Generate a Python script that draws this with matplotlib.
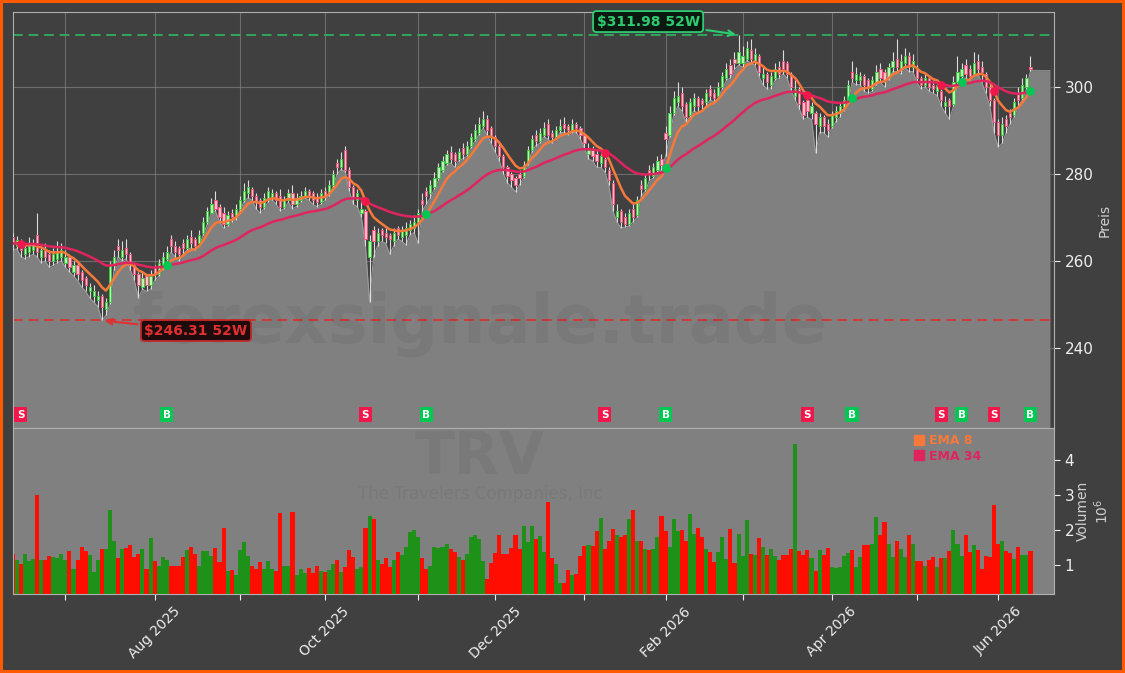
import numpy as np
import pandas as pd
import matplotlib
matplotlib.use('Agg')
import matplotlib.pyplot as plt
from matplotlib.lines import Line2D

# ---------------- data: TRV daily, Jun 11 2025 - Jun 11 2026 ----------------
holidays = ['2025-06-19', '2025-07-04', '2025-09-01', '2025-11-27', '2025-12-25',
            '2026-01-01', '2026-01-19', '2026-02-16', '2026-04-03', '2026-05-25']
dates = pd.bdate_range('2025-06-11', '2026-06-11')
dates = dates[~dates.isin(pd.to_datetime(holidays))]

opens = [
    265.5, 263.5, 264.5, 261.5, 262.0, 262.5, 266.0, 261.0, 262.5, 261.5, 260.0, 260.5, 261.0,
    259.5, 261.0, 257.5, 259.0, 257.5, 256.0, 253.0, 252.0, 251.0, 252.0, 249.0, 250.5, 259.0, 263.5, 261.0, 263.0, 261.5, 259.0, 257.0, 254.0, 256.5, 254.5,
    258.5, 257.0, 259.0, 260.5, 265.0, 263.5, 263.0, 264.0, 263.0, 265.5, 265.0, 264.0, 266.5, 269.0, 271.0, 274.0, 272.5, 271.0, 268.5, 271.0, 270.0,
    272.0, 274.0, 275.5, 276.5, 275.0, 274.0, 272.5, 274.0, 274.5, 275.5, 275.0, 272.5, 274.0, 275.5, 273.0, 274.0, 275.0, 276.0, 275.5, 274.5, 273.5,
    276.0, 275.5, 277.5, 282.5, 281.5, 285.5, 281.0, 277.0, 274.0, 271.0, 271.5, 261.0, 267.0, 264.5, 267.0, 266.5, 266.0, 264.5, 267.5, 265.5, 266.0, 267.0, 267.5,
    268.5, 274.0, 276.0, 275.5, 277.0, 279.0, 281.0, 282.5, 285.0, 284.5, 283.5, 286.0, 284.5, 286.5, 288.0, 289.5, 291.0, 292.5, 290.5,
    288.5, 286.5, 284.0, 281.5, 280.0, 279.0, 280.0, 279.5, 282.5, 285.5, 289.0, 287.5, 289.0, 291.5, 289.5, 288.5, 290.0, 291.5, 291.0, 290.0, 291.5, 290.5,
    289.0, 284.5, 285.5, 284.5, 282.5, 283.5, 281.0, 278.0, 270.0, 271.5, 270.0, 268.5, 272.0, 270.5, 277.5, 276.5, 281.0, 279.5, 281.0, 283.5,
    289.5, 289.0, 294.0, 296.5, 298.5, 296.0, 293.5, 295.5, 297.5, 297.0, 296.5, 299.5, 298.5, 298.0, 300.0, 302.0, 305.0, 306.5, 305.5,
    305.5, 306.5, 308.5, 306.0, 307.0, 302.0, 303.0, 300.5, 302.0, 304.5, 306.0, 305.5, 303.0, 298.0, 299.5, 296.5, 297.0, 294.0, 294.0, 291.0, 293.0, 291.5,
    291.0, 293.0, 294.0, 295.0, 297.0, 303.5, 301.5, 301.5, 302.5, 301.5, 299.5, 301.0, 304.0, 303.5, 302.0, 304.5, 306.5, 304.0, 305.5, 307.0, 304.5,
    304.0, 302.0, 300.5, 302.0, 300.5, 299.0, 299.0, 295.5, 297.0, 296.0, 301.0, 302.5, 305.0, 304.0, 303.0, 306.0, 304.5, 303.0, 300.0, 297.0,
    292.0, 289.0, 292.5, 294.0, 293.5, 298.5, 297.5, 300.0, 304.6]

highs = [
    266.5, 265.8, 265.0, 264.0, 265.5, 265.0, 271.0, 263.5, 264.0, 262.5, 263.0, 264.5, 264.0,
    262.5, 261.5, 260.0, 259.5, 258.0, 256.5, 255.0, 254.5, 253.0, 252.5, 251.5, 260.0, 262.5, 265.0, 264.5, 265.0, 262.0, 259.5, 257.5, 257.5, 257.0, 258.0,
    259.0, 260.5, 262.0, 263.5, 266.0, 264.5, 263.5, 265.0, 266.0, 267.0, 265.5, 267.0, 270.0, 272.5, 274.5, 276.0, 273.0, 272.5, 271.5, 272.0, 273.0,
    275.0, 278.0, 278.5, 277.0, 275.5, 274.5, 275.5, 277.0, 276.5, 276.0, 276.5, 275.0, 276.5, 277.5, 275.5, 276.0, 277.0, 276.5, 276.0, 275.5, 276.5,
    277.0, 278.5, 281.0, 283.5, 285.0, 286.5, 281.5, 277.5, 276.5, 274.0, 272.0, 266.0, 268.0, 267.5, 267.5, 267.5, 266.5, 267.5, 268.0, 268.0, 269.0, 269.5, 270.5,
    272.0, 275.5, 277.0, 278.5, 280.5, 282.5, 284.0, 285.5, 286.5, 285.0, 286.0, 287.0, 287.5, 289.5, 291.5, 293.0, 294.5, 293.5, 291.0,
    289.0, 287.0, 284.5, 282.0, 280.5, 279.5, 281.0, 283.0, 286.5, 289.0, 290.0, 290.5, 292.0, 292.5, 290.0, 291.0, 292.5, 293.0, 291.5, 292.5, 292.0, 291.0,
    289.5, 287.0, 286.5, 285.5, 285.0, 284.0, 281.5, 278.5, 273.0, 272.0, 271.0, 272.0, 273.0, 275.0, 278.5, 280.0, 282.0, 282.5, 284.0, 284.5,
    291.0, 295.5, 299.0, 301.0, 300.0, 296.5, 297.5, 298.5, 298.0, 297.5, 299.5, 300.5, 299.5, 301.0, 303.5, 305.5, 306.5, 308.0, 311.98,
    309.5, 310.5, 311.0, 309.0, 307.5, 304.5, 303.5, 303.5, 305.5, 306.0, 308.5, 306.0, 303.5, 301.5, 300.0, 297.0, 297.5, 296.5, 294.5, 294.0, 293.5, 292.5,
    294.5, 295.5, 296.5, 298.0, 301.5, 306.0, 304.5, 303.5, 303.0, 302.0, 302.5, 305.0, 305.5, 304.0, 305.5, 308.0, 311.0, 307.5, 309.0, 308.0, 307.5,
    305.0, 302.5, 303.0, 302.5, 301.5, 301.5, 299.5, 298.0, 297.5, 302.5, 307.0, 305.5, 306.5, 305.0, 308.0, 307.5, 306.0, 303.5, 301.0, 297.5,
    292.5, 293.0, 293.5, 295.0, 297.5, 300.0, 302.0, 303.0, 307.2]

lows = [
    262.5, 262.8, 261.0, 260.5, 261.0, 261.5, 261.0, 259.5, 260.0, 258.5, 259.0, 259.5, 260.0,
    258.5, 257.5, 256.5, 255.5, 254.0, 253.0, 251.5, 250.5, 249.5, 246.31, 247.5, 250.0, 258.0, 261.0, 260.0, 260.5, 258.0, 255.5, 251.5, 253.5, 253.0, 253.5,
    255.5, 256.5, 258.0, 259.5, 262.0, 261.0, 260.0, 261.5, 262.5, 263.0, 262.5, 263.5, 266.0, 268.5, 271.0, 271.5, 269.0, 267.5, 268.0, 269.0, 269.5,
    271.5, 273.5, 274.5, 274.0, 272.0, 271.0, 272.0, 273.5, 274.0, 273.0, 271.5, 272.0, 273.5, 272.0, 272.5, 273.5, 274.5, 274.0, 273.0, 272.5, 273.0,
    274.0, 275.0, 277.0, 280.0, 281.0, 280.5, 276.0, 273.0, 272.5, 270.0, 263.5, 250.6, 261.0, 263.5, 264.5, 264.0, 261.5, 263.5, 265.0, 264.5, 263.7, 266.0, 266.5,
    264.0, 271.5, 273.0, 274.5, 276.5, 278.5, 280.5, 282.0, 282.5, 281.5, 283.0, 283.5, 284.0, 286.0, 287.5, 289.0, 290.5, 289.0, 287.0,
    285.0, 283.0, 280.0, 278.0, 277.0, 275.9, 277.5, 279.0, 282.0, 285.0, 286.5, 287.0, 288.5, 288.0, 287.0, 288.0, 289.5, 289.5, 289.0, 289.5, 289.5, 288.0,
    286.0, 283.5, 283.0, 281.5, 281.5, 280.5, 277.5, 271.5, 269.0, 267.6, 267.8, 268.0, 269.0, 270.0, 275.0, 276.0, 278.5, 279.0, 280.5, 281.0,
    284.0, 288.5, 293.5, 295.5, 294.5, 292.0, 293.0, 294.5, 294.0, 294.5, 295.5, 297.0, 296.5, 297.5, 299.5, 301.5, 302.0, 304.0, 305.0,
    304.5, 306.0, 305.5, 305.0, 302.5, 300.5, 299.5, 299.5, 301.5, 302.0, 303.0, 302.0, 299.0, 297.0, 295.0, 292.5, 293.0, 292.5, 284.8, 289.5, 289.5, 288.5,
    290.5, 292.0, 293.0, 294.5, 296.5, 301.0, 300.5, 300.5, 299.0, 298.5, 299.0, 300.5, 301.0, 300.0, 301.5, 303.5, 303.5, 303.0, 304.5, 303.5, 303.5,
    301.0, 299.5, 300.0, 299.0, 298.5, 298.0, 295.5, 294.0, 292.5, 295.5, 300.5, 302.0, 302.0, 301.5, 302.5, 303.0, 301.0, 298.5, 295.5, 289.5,
    286.2, 287.0, 289.5, 291.5, 293.0, 295.5, 297.0, 299.5, 303.7]

closes = [
    264.0, 264.8, 262.5, 263.0, 263.5, 264.0, 262.0, 262.5, 261.0, 260.0, 261.5, 262.0, 262.5,
    261.0, 258.5, 259.0, 257.0, 255.5, 254.5, 254.0, 253.0, 252.0, 249.5, 250.5, 259.0, 261.0, 262.5, 262.5, 261.5, 259.5, 257.0, 254.5, 256.0, 254.5, 256.5,
    257.0, 259.5, 261.0, 262.0, 263.5, 262.0, 261.5, 263.0, 265.0, 264.0, 263.5, 266.0, 269.0, 271.5, 273.0, 272.0, 270.0, 268.5, 270.5, 270.0, 272.0,
    274.0, 276.0, 277.0, 275.0, 273.5, 272.5, 274.5, 276.0, 275.5, 274.0, 272.5, 274.0, 275.5, 273.0, 274.5, 275.0, 276.0, 275.0, 274.0, 273.5, 275.5,
    275.0, 277.5, 280.0, 281.5, 283.5, 281.0, 277.0, 274.5, 275.5, 272.0, 265.0, 264.5, 264.5, 266.5, 266.0, 265.5, 265.0, 266.5, 266.0, 267.0, 267.5, 268.5, 269.0,
    271.0, 273.0, 275.0, 277.5, 279.0, 281.5, 283.0, 284.5, 283.5, 283.0, 285.0, 284.5, 286.5, 288.5, 290.0, 291.5, 292.5, 290.0, 288.5,
    286.5, 284.0, 281.5, 279.5, 278.5, 277.5, 279.0, 282.0, 285.5, 288.0, 287.5, 289.5, 290.5, 289.0, 288.5, 290.0, 291.0, 290.5, 290.0, 291.5, 290.5, 289.0,
    287.0, 285.5, 284.0, 283.0, 284.0, 281.5, 278.5, 273.0, 271.5, 269.0, 268.5, 271.0, 270.0, 274.0, 276.5, 279.0, 280.0, 281.5, 283.0, 282.0,
    288.0, 294.0, 297.5, 298.0, 295.5, 293.0, 296.5, 297.5, 295.5, 296.0, 298.5, 298.0, 297.5, 300.0, 302.5, 304.0, 303.0, 305.5, 308.0,
    307.0, 309.0, 306.5, 307.5, 303.5, 303.0, 301.0, 302.5, 304.0, 303.0, 304.0, 303.0, 300.0, 299.5, 296.0, 293.5, 294.5, 295.5, 291.5, 293.0, 291.0, 290.0,
    293.5, 294.5, 295.5, 297.0, 300.5, 302.0, 303.0, 302.5, 300.5, 300.0, 301.5, 303.5, 302.0, 301.5, 304.5, 306.0, 304.5, 306.0, 307.0, 305.0, 306.0,
    302.0, 300.5, 302.0, 300.0, 299.5, 300.5, 297.0, 296.5, 295.5, 301.0, 303.5, 304.0, 303.0, 302.5, 305.5, 304.0, 303.5, 300.0, 297.0, 292.0,
    289.0, 291.5, 291.0, 293.0, 296.5, 297.0, 300.5, 302.0, 304.0]

# volume in millions of shares
volumes = [
    1.33, 1.16, 1.03, 1.33, 1.11, 1.18, 3.00, 1.14, 1.14, 1.25,
    1.22, 1.20, 1.33, 1.16, 1.39, 0.88, 1.14, 1.53, 1.39, 1.28,
    0.80, 1.14, 1.45, 1.45, 2.58, 1.70, 1.19, 1.45, 1.48, 1.56,
    1.22, 1.31, 1.45, 0.88, 1.76, 1.11, 0.97, 1.22, 1.14, 0.99,
    0.97, 0.97, 1.22, 1.42, 1.53, 1.31, 0.99, 1.39, 1.39, 1.25,
    1.48, 1.08, 2.07, 0.83, 0.86, 0.72, 1.42, 1.65, 1.25, 0.99,
    0.88, 1.08, 0.88, 1.11, 0.88, 0.83, 2.49, 0.99, 0.99, 2.52,
    0.72, 0.88, 0.77, 0.92, 0.77, 0.97, 0.83, 0.80, 0.86, 1.03,
    1.14, 0.80, 0.94, 1.42, 1.22, 0.89, 0.94, 2.07, 2.41, 2.30,
    1.14, 1.03, 1.20, 0.94, 1.14, 1.37, 1.28, 1.51, 1.93, 2.01,
    1.80, 1.20, 0.89, 0.97, 1.53, 1.49, 1.51, 1.61, 1.45, 1.37,
    1.23, 1.14, 1.31, 1.80, 1.85, 1.73, 1.11, 0.61, 1.06, 1.34,
    1.85, 1.31, 1.31, 1.48, 1.85, 1.45, 2.10, 1.65, 2.10, 1.73,
    1.82, 1.37, 2.80, 1.20, 1.03, 0.49, 0.49, 0.86, 0.72, 0.75,
    1.25, 1.54, 1.56, 1.54, 1.98, 2.35, 1.46, 1.68, 2.04, 1.85,
    1.79, 1.87, 2.30, 2.58, 1.68, 1.70, 1.45, 1.42, 1.45, 1.79,
    2.41, 1.96, 1.51, 2.32, 1.96, 1.99, 1.68, 2.46, 1.90, 2.07,
    1.79, 1.45, 1.37, 1.08, 1.37, 1.79, 1.17, 2.04, 1.06, 1.90,
    1.25, 2.27, 1.33, 1.28, 1.76, 1.53, 1.30, 1.45, 1.25, 1.14,
    1.30, 1.28, 1.45, 4.45, 1.39, 1.28, 1.42, 1.20, 0.83, 1.42,
    1.30, 1.48, 0.94, 0.92, 0.94, 1.25, 1.34, 1.42, 0.94, 1.23,
    1.56, 1.56, 1.59, 2.38, 1.85, 2.24, 1.59, 1.23, 1.70, 1.45,
    1.23, 1.85, 1.59, 1.11, 1.11, 0.97, 1.14, 1.23, 0.95, 1.20,
    1.20, 1.39, 2.01, 1.59, 1.25, 1.87, 1.37, 1.56, 1.42, 0.89,
    1.25, 1.23, 2.72, 1.59, 1.68, 1.39, 1.34, 1.17, 1.51, 1.28,
    1.28, 1.39]

high_52w = 311.98
low_52w = 246.31

# ---------------- indicators ----------------
df = pd.DataFrame({'Open': opens, 'High': highs, 'Low': lows, 'Close': closes,
                   'Volume': volumes}, index=dates)
df['EMA8'] = df['Close'].ewm(span=8, adjust=False).mean()
df['EMA34'] = df['Close'].ewm(span=34, adjust=False).mean()
diff = df['EMA8'] - df['EMA34']
buy = np.where((diff.shift(1) < 0) & (diff > 0))[0]
sell = np.where((diff.shift(1) > 0) & (diff < 0))[0]

n = len(df)
x = np.arange(n)
up = df['Close'].values >= df['Open'].values

# ---------------- colors ----------------
BG = '#404040'
FILL = '#808080'
ORANGE = '#f5793a'
CRIMSON = '#e0245e'
GREEN_SIG = '#00c853'
RED_SIG = '#f0184a'
TXT = '#eeeeee'

fig = plt.figure(figsize=(11.25, 6.73), dpi=100, facecolor=BG)
fig.patch.set_edgecolor('#ff5a00')
fig.patch.set_linewidth(4)

ax = fig.add_axes([12.7 / 1125, 1 - 428 / 673, 1041.3 / 1125, 416 / 673])
axv = fig.add_axes([12.7 / 1125, 1 - 594 / 673, 1041.3 / 1125, 166 / 673], sharex=ax)

# ---------------- price panel ----------------
ax.set_facecolor(BG)
ax.set_axisbelow(True)
ax.grid(True, color='#8a8a8a', linewidth=0.8, alpha=0.6)

x_fill = np.append(x, n + 3.8)
y_fill = np.append(df['Low'].values, df['Low'].values[-1])
ax.fill_between(x_fill, y_fill, 200, color=FILL, zorder=1, linewidth=0)
ax.plot(x_fill, y_fill, color='#a0a0a0', linewidth=0.7, zorder=1.5)

# candles
ax.vlines(x, df['Low'], df['High'], color='#dcdcdc', linewidth=0.8, zorder=3)
body_lo = np.minimum(df['Open'].values, df['Close'].values)
body_h = np.abs(df['Close'].values - df['Open'].values)
ax.bar(x[up], body_h[up], bottom=body_lo[up], width=0.55,
       color='#b9f5b9', edgecolor='#3fc83f', linewidth=0.7, zorder=4)
ax.bar(x[~up], body_h[~up], bottom=body_lo[~up], width=0.55,
       color='#f9c0cc', edgecolor='#f0557a', linewidth=0.7, zorder=4)

ax.plot(x, df['EMA8'], color=ORANGE, linewidth=1.8, zorder=5)
ax.plot(x, df['EMA34'], color=CRIMSON, linewidth=1.8, zorder=5)

# crossover dots and S/B boxes
ax.scatter(buy, df['EMA8'].values[buy], color=GREEN_SIG, s=28, zorder=6)
ax.scatter(sell, df['EMA8'].values[sell], color=RED_SIG, s=28, zorder=6)
for i in buy:
    ax.text(i, 224.7, 'B', ha='center', va='center', color='white', fontsize=7.5,
            fontweight='bold', zorder=7,
            bbox=dict(boxstyle='square,pad=0.25', fc=GREEN_SIG, ec='none'))
for i in sell:
    ax.text(i, 224.7, 'S', ha='center', va='center', color='white', fontsize=7.5,
            fontweight='bold', zorder=7,
            bbox=dict(boxstyle='square,pad=0.25', fc=RED_SIG, ec='none'))

# 52 week lines
ax.axhline(high_52w, color='#2fa85a', linestyle='--', linewidth=1.4, dashes=(5, 3), zorder=2)
ax.axhline(low_52w, color='#d23a3a', linestyle='--', linewidth=1.4, dashes=(5, 3), zorder=2)
i_hi = int(np.argmax(df['High'].values))
i_lo = int(np.argmin(df['Low'].values))
ax.annotate('\\$%.2f 52W' % high_52w, xy=(i_hi, high_52w), xytext=(156.7, 315.0),
            color='#2ecc71', fontsize=10, fontweight='bold', ha='center', va='center',
            bbox=dict(boxstyle='round,pad=0.25', fc='#0b1a10', ec='#2ecc71', lw=1.3),
            arrowprops=dict(arrowstyle='->', color='#2ecc71', lw=1.5), zorder=8)
ax.annotate('\\$%.2f 52W' % low_52w, xy=(i_lo, low_52w), xytext=(45.2, 244.0),
            color='#e03030', fontsize=10, fontweight='bold', ha='center', va='center',
            bbox=dict(boxstyle='round,pad=0.25', fc='#1e0c0c', ec='#c02828', lw=1.3),
            arrowprops=dict(arrowstyle='->', color='#e03030', lw=1.5), zorder=8)

# watermark
ax.text(0.449, 0.25, 'forexsignale.trade', transform=ax.transAxes, fontsize=48,
        fontweight='bold', color='black', alpha=0.05, ha='center', va='center', zorder=2)

ax.set_ylim(221.6, 317.2)
ax.set_xlim(0, n + 4.8)
ax.yaxis.tick_right()
ax.yaxis.set_label_position('right')
ax.set_yticks([240, 260, 280, 300])
ax.tick_params(axis='y', colors=TXT, labelsize=11, length=4)
ax.tick_params(axis='x', labelbottom=False, length=0)
ax.set_ylabel('Preis', color='#d0d0d0', fontsize=10, labelpad=3)
for s in ax.spines.values():
    s.set_color('#b0b0b0')

# ---------------- volume panel ----------------
axv.set_facecolor(FILL)
vcol = np.where(up, '#1e9118', '#ff0d00')
axv.bar(x, df['Volume'], width=1.0, color=vcol, linewidth=0, zorder=2)
axv.set_ylim(0.18, 4.9)
axv.yaxis.tick_right()
axv.yaxis.set_label_position('right')
axv.set_yticks([1, 2, 3, 4])
axv.tick_params(axis='y', colors=TXT, labelsize=11, length=4)
axv.set_ylabel('Volumen\n$10^6$', color='#d0d0d0', fontsize=10, labelpad=1)
for s in axv.spines.values():
    s.set_color('#b0b0b0')

axv.text(0.449, 0.82, 'TRV', transform=axv.transAxes, fontsize=42, fontweight='bold',
         color='black', alpha=0.05, ha='center', va='center', zorder=1)
axv.text(0.449, 0.6, 'The Travelers Companies, Inc', transform=axv.transAxes,
         fontsize=12, color='black', alpha=0.05, ha='center', va='center', zorder=1)

handles = [Line2D([], [], marker='s', linestyle='None', color=ORANGE, markersize=7),
           Line2D([], [], marker='s', linestyle='None', color=CRIMSON, markersize=7)]
leg = axv.legend(handles, ['EMA 8', 'EMA 34'], loc='upper left',
                 bbox_to_anchor=(0.855, 1.03), frameon=False, fontsize=9,
                 handlelength=0.8, handletextpad=0.4, labelspacing=0.2)
for t, c in zip(leg.get_texts(), [ORANGE, CRIMSON]):
    t.set_color(c)
    t.set_fontweight('bold')

# month ticks, labels on every second month
month_start = [i for i in range(1, n) if dates[i].month != dates[i - 1].month]
labels = [dates[i].strftime('%b %Y') if dates[i].month % 2 == 0 else '' for i in month_start]
axv.set_xticks(month_start)
axv.set_xticklabels(labels, rotation=45, ha='center', color=TXT, fontsize=10)
axv.tick_params(axis='x', colors=TXT, length=4)

fig.savefig('out.png', dpi=100, facecolor=fig.get_facecolor(), edgecolor=fig.patch.get_edgecolor())
